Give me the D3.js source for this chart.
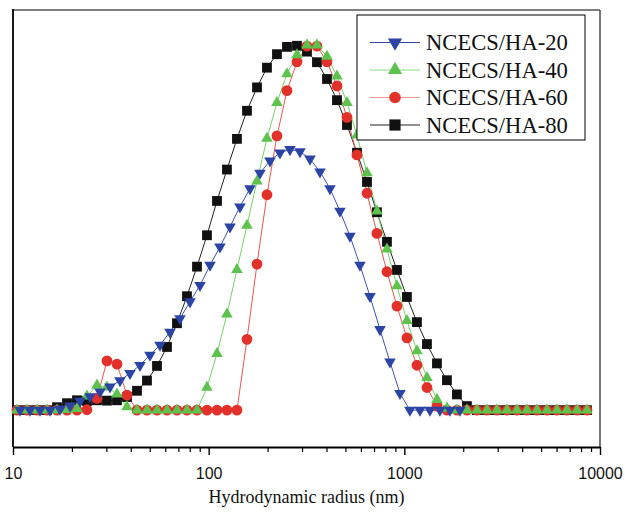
<!DOCTYPE html>
<html>
<head>
<meta charset="utf-8">
<script src="https://cdn.jsdelivr.net/npm/d3@7"></script>
<style>
  body { margin: 0; background: #fff; }
  svg { display: block; }
</style>
</head>
<body>
<div id="vis"></div>
<script>
// frame and margins
const FRAME_WIDTH = 625;
const FRAME_HEIGHT = 513;
const MARGINS = {left: 13, right: 25, top: 10, bottom: 66};
const VIS_WIDTH = FRAME_WIDTH - MARGINS.left - MARGINS.right;
const VIS_HEIGHT = FRAME_HEIGHT - MARGINS.top - MARGINS.bottom;

// size bins (nm) shared by HA-40, HA-60, HA-80
const RADIUS_A = [10.48, 11.79, 13.26, 14.92, 16.78, 18.88, 21.23, 23.88, 26.87, 30.22,
  34.00, 38.24, 43.02, 48.39, 54.44, 61.24, 68.87, 77.48, 87.16, 98.02,
  110.3, 124.0, 139.5, 157.0, 176.6, 198.6, 223.4, 251.3, 282.7, 318.0,
  357.7, 402.4, 452.7, 509.2, 572.8, 644.4, 724.4, 815.0, 916.8, 1031,
  1160, 1305, 1468, 1651, 1857, 2089, 2350, 2644, 2974, 3345,
  3763, 4233, 4762, 5357, 6026, 6779, 7626, 8578];

// size bins (nm) of HA-20
const RADIUS_B = [10.86, 12.21, 13.74, 15.46, 17.39, 19.56, 22.00, 24.75, 27.84, 31.31,
  35.22, 39.62, 44.57, 50.13, 56.39, 63.44, 71.36, 80.27, 90.30, 101.6,
  114.2, 128.5, 144.5, 162.6, 182.9, 205.8, 231.4, 260.3, 292.9, 329.4,
  370.6, 416.9, 468.8, 527.4, 593.3, 667.4, 750.7, 844.5, 950.0, 1068,
  1202, 1352, 1521, 1711, 1924];

// intensities (relative)
const HA20 = [0, 0, 0, 0, 0.3, 1.2, 2.5, 3.7, 5.0, 6.4,
  8.1, 10.1, 12.3, 15.1, 17.8, 21.4, 25.1, 29.7, 34.2, 39.7,
  44.7, 50.2, 55.7, 60.7, 64.9, 68.3, 70.5, 71.4, 70.8, 68.8,
  65.3, 60.7, 54.5, 47.7, 39.7, 31.2, 22.1, 13.2, 4.6, 0,
  0, 0, 0, 0, 0];

const HA40 = [0, 0, 0, 0, 0, 0.1, 0.4, 3.8, 6.8, 6.3,
  4.4, 0.9, 0, 0, 0, 0, 0, 0, 0, 6.2,
  15.5, 26.3, 38.5, 50.6, 62.7, 74.4, 84.2, 92.1, 97.3, 100,
  100, 96.9, 91.5, 84.2, 75.3, 65.0, 54.5, 44.1, 34.0, 24.5,
  16.2, 8.9, 2.9, 0.5, 0, 0, 0, 0, 0, 0,
  0, 0, 0, 0, 0, 0, 0, 0];

const HA60 = [0, 0, 0, 0, 0, 0, 0, 0.1, 3.2, 13.5,
  12.6, 4.1, 0, 0, 0, 0, 0, 0, 0, 0,
  0, 0, 0, 19.4, 40.0, 59.0, 75.1, 87.5, 95.4, 99.7,
  99.7, 95.4, 88.8, 80.2, 69.9, 59.4, 48.4, 37.9, 28.5, 19.8,
  12.3, 6.2, 1.1, 0, 0, 0, 0, 0, 0, 0,
  0, 0, 0, 0, 0, 0, 0, 0];

const HA80 = [0, 0, 0, 0, 0.8, 1.9, 2.7, 2.5, 2.7, 2.6,
  2.7, 3.6, 5.3, 8.1, 12.1, 17.3, 23.8, 31.2, 39.3, 47.9,
  57.3, 65.9, 74.3, 82.0, 88.4, 93.8, 97.5, 99.5, 99.8, 98.2,
  95.3, 90.7, 84.9, 78.1, 70.5, 62.5, 54.2, 46.1, 38.4, 31.0,
  24.1, 18.1, 12.8, 8.2, 4.3, 1.1, 0, 0, 0, 0,
  0, 0, 0, 0, 0, 0, 0, 0];

const MAJOR_TICKS = [10, 100, 1000, 10000];
const MINOR_TICKS = [20, 30, 40, 50, 60, 70, 80, 90,
  200, 300, 400, 500, 600, 700, 800, 900,
  2000, 3000, 4000, 5000, 6000, 7000, 8000, 9000];

const X_LABEL = "Hydrodynamic radius (nm)";

// series: drawn in this order (last on top)
const SERIES = [
  {name: "NCECS/HA-80", r: RADIUS_A, v: HA80, shape: d3.symbolSquare, size: 96, fill: "#111111", line: "#222222", rot: 0},
  {name: "NCECS/HA-60", r: RADIUS_A, v: HA60, shape: d3.symbolCircle, size: 92, fill: "#e2312a", line: "#e8564f", rot: 0},
  {name: "NCECS/HA-40", r: RADIUS_A, v: HA40, shape: d3.symbolTriangle, size: 58, fill: "#5dc24e", line: "#77d06a", rot: 0},
  {name: "NCECS/HA-20", r: RADIUS_B, v: HA20, shape: d3.symbolTriangle, size: 58, fill: "#2c44a3", line: "#3d55b3", rot: 180}
];
const LEGEND_ORDER = ["NCECS/HA-20", "NCECS/HA-40", "NCECS/HA-60", "NCECS/HA-80"];
const LEGEND_LINE = {"NCECS/HA-20": "#3347a8", "NCECS/HA-40": "#8edc84", "NCECS/HA-60": "#f0968c", "NCECS/HA-80": "#222222"};
const LEGEND_SIZE = {"NCECS/HA-20": 88, "NCECS/HA-40": 88, "NCECS/HA-60": 105, "NCECS/HA-80": 125};

// svg frame
const FRAME = d3.select("#vis")
  .append("svg")
    .attr("width", FRAME_WIDTH)
    .attr("height", FRAME_HEIGHT);

const G = FRAME.append("g")
  .attr("transform", "translate(" + MARGINS.left + "," + MARGINS.top + ")");

// scales
const X = d3.scaleLog().domain([10, 10000]).range([0, VIS_WIDTH]);
const Y = d3.scaleLinear().domain([-10.1, 109.6]).range([VIS_HEIGHT, 0]);

// top and right borders (grey)
G.append("line").attr("x1", 0).attr("x2", VIS_WIDTH).attr("y1", 0).attr("y2", 0)
  .attr("stroke", "#555").attr("stroke-width", 1.6);
G.append("line").attr("x1", VIS_WIDTH).attr("x2", VIS_WIDTH).attr("y1", 0).attr("y2", VIS_HEIGHT)
  .attr("stroke", "#555").attr("stroke-width", 1.6);
// left border
G.append("line").attr("x1", 0).attr("x2", 0).attr("y1", -1).attr("y2", VIS_HEIGHT)
  .attr("stroke", "#000").attr("stroke-width", 1.8);

// minor ticks
G.append("g")
  .attr("transform", "translate(0," + VIS_HEIGHT + ")")
  .call(d3.axisBottom(X).tickValues(MINOR_TICKS).tickFormat("").tickSize(5).tickSizeOuter(0))
  .call(g => g.select(".domain").remove())
  .call(g => g.selectAll("line").attr("stroke", "#000").attr("stroke-width", 1.2));

// major ticks and labels
const XAXIS = G.append("g")
  .attr("transform", "translate(0," + VIS_HEIGHT + ")")
  .call(d3.axisBottom(X).tickValues(MAJOR_TICKS).tickFormat(d3.format("d"))
    .tickSize(8).tickSizeOuter(0).tickPadding(13));
XAXIS.select(".domain").attr("stroke", "#000").attr("stroke-width", 1.8);
XAXIS.selectAll("line").attr("stroke", "#000").attr("stroke-width", 1.4);
XAXIS.selectAll("text")
  .attr("font-family", "'Liberation Sans', Arial, sans-serif")
  .attr("font-size", "16px")
  .attr("fill", "#111");

// axis title
FRAME.append("text")
  .attr("x", MARGINS.left + VIS_WIDTH / 2)
  .attr("y", 503)
  .attr("text-anchor", "middle")
  .attr("font-family", "'Liberation Serif', 'Times New Roman', serif")
  .attr("font-size", "18px")
  .attr("fill", "#111")
  .text(X_LABEL);

// lines and markers
const LINE = d3.line()
  .x((d) => X(d[0]))
  .y((d) => Y(d[1]));

SERIES.forEach((s) => {
  const pts = s.r.map((r, i) => [r, s.v[i]]);
  G.append("path")
    .datum(pts)
    .attr("d", LINE)
    .attr("fill", "none")
    .attr("stroke", s.line)
    .attr("stroke-width", 1);
});

SERIES.forEach((s) => {
  const pts = s.r.map((r, i) => [r, s.v[i]]);
  G.selectAll(null)
    .data(pts)
    .enter()
    .append("path")
      .attr("d", d3.symbol().type(s.shape).size(s.size))
      .attr("transform", (d) => "translate(" + X(d[0]) + "," + Y(d[1]) + ") rotate(" + s.rot + ")")
      .attr("fill", s.fill);
});

// legend
const LEG = FRAME.append("g").attr("transform", "translate(357,15)");
LEG.append("rect")
  .attr("width", 228).attr("height", 125)
  .attr("fill", "#fff").attr("stroke", "#000").attr("stroke-width", 1);

LEGEND_ORDER.forEach((name, i) => {
  const s = SERIES.find((d) => d.name === name);
  const yy = 27.5 + i * 27.5;
  LEG.append("line")
    .attr("x1", 13).attr("x2", 63).attr("y1", yy).attr("y2", yy)
    .attr("stroke", LEGEND_LINE[name]).attr("stroke-width", 1.2);
  LEG.append("path")
    .attr("d", d3.symbol().type(s.shape).size(LEGEND_SIZE[name]))
    .attr("transform", "translate(38," + yy + ") rotate(" + s.rot + ")")
    .attr("fill", s.fill);
  LEG.append("text")
    .attr("x", 69)
    .attr("y", yy + 7.5)
    .attr("font-family", "'Liberation Serif', 'Times New Roman', serif")
    .attr("font-size", "22.6px")
    .attr("fill", "#111")
    .text(name);
});
</script>
</body>
</html>
